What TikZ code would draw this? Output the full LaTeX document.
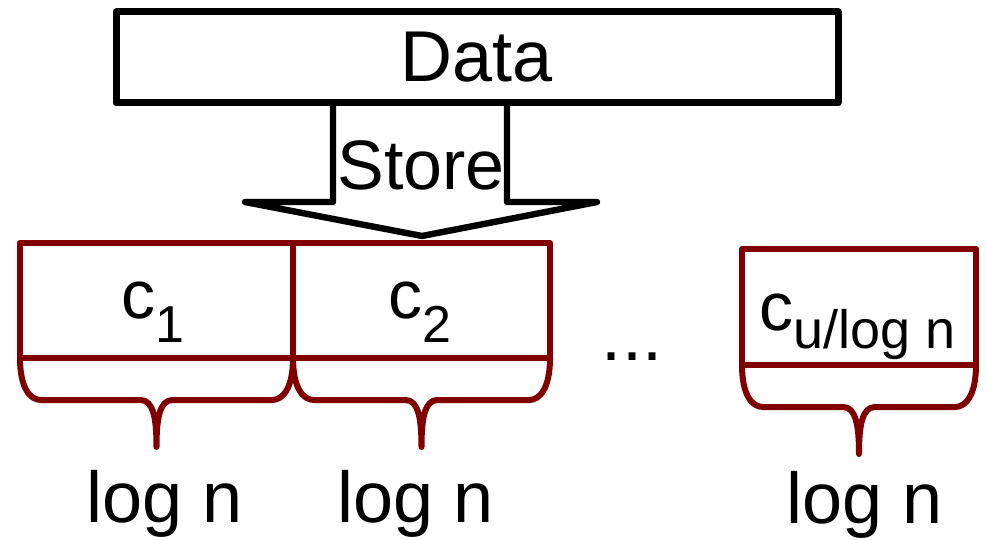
\documentclass[tikz,border=0pt]{standalone}
\usepackage{fontspec}
\setmainfont{Liberation Sans}
\usetikzlibrary{positioning,calc}
\definecolor{cellred}{RGB}{128,0,0}
\tikzstyle{datbox}=[rectangle,draw=black,line width=3.5pt,line join=round,
  outer sep=0pt,inner sep=0pt,font=\fontsize{36}{36}\selectfont]
\tikzstyle{cell}=[rectangle,draw=cellred,line width=3pt,line join=round,
  outer sep=0pt,inner sep=0pt,minimum height=57.5pt]
\tikzstyle{brace}=[draw=cellred,line width=3pt,line cap=round,line join=round]
\tikzstyle{lbl}=[inner sep=0pt,anchor=base,font=\fontsize{36}{36}\selectfont]
\tikzstyle{clbl}=[lbl,font=\fontsize{34}{34}\selectfont]
\newcommand{\subtxt}[3]{\raisebox{#1}{\fontsize{#2}{#2}\selectfont #3}}
% curly brace hanging under a cell
\newcommand{\cellbrace}[1]{%
  \draw[brace] (#1.south west) .. controls +(0,30) and +(-11,0) .. ($(#1.south west)+(21,42)$)
    -- ($(#1.south)+(-16,42)$) .. controls +(13,0) and +(0,-28) .. ($(#1.south)+(0,89)$)
    .. controls +(0,-28) and +(-13,0) .. ($(#1.south)+(16,42)$)
    -- ($(#1.south east)+(-21,42)$) .. controls +(11,0) and +(0,30) .. (#1.south east);}

\begin{document}
\begin{tikzpicture}[x=0.5pt,y=-0.5pt]
  \useasboundingbox (0,0) rectangle (986,540);

  \node[datbox,minimum width=361pt,minimum height=45.5pt] (data) at (477,57.5) {Data};

  \coordinate (tip) at (422,236);
  \draw[line width=3.2pt,line join=round,line cap=round]
    (333,103) |- (245,202) -- (tip) -- (597,202) -| (507,103);
  \node[lbl,font=\fontsize{35}{35}\selectfont] (store) at (421,190) {Store};

  \node[cell,minimum width=136.5pt] (b1) at (156.5,300.5) {};
  \node[cell,minimum width=128.5pt,right=0pt of b1] (b2) {};
  \node[cell,minimum width=117pt,minimum height=58pt] (b3) at (859,307) {};

  \node[clbl] (c1) at (153,318) {c\subtxt{-12pt}{26}{1}};
  \node[clbl] (c2) at (420,318) {c\subtxt{-12pt}{26}{2}};
  \node[clbl] (c3) at (858,330) {c\subtxt{-9pt}{27}{u/log n}};
  \node[lbl] (dots) at (632,360) {...};

  \cellbrace{b1}
  \cellbrace{b2}
  \cellbrace{b3}

  \node[lbl] (n1) at (165,522) {log n};
  \node[lbl] (n2) at (416,522) {log n};
  \node[lbl] (n3) at (865,523) {log n};
\end{tikzpicture}
\end{document}
